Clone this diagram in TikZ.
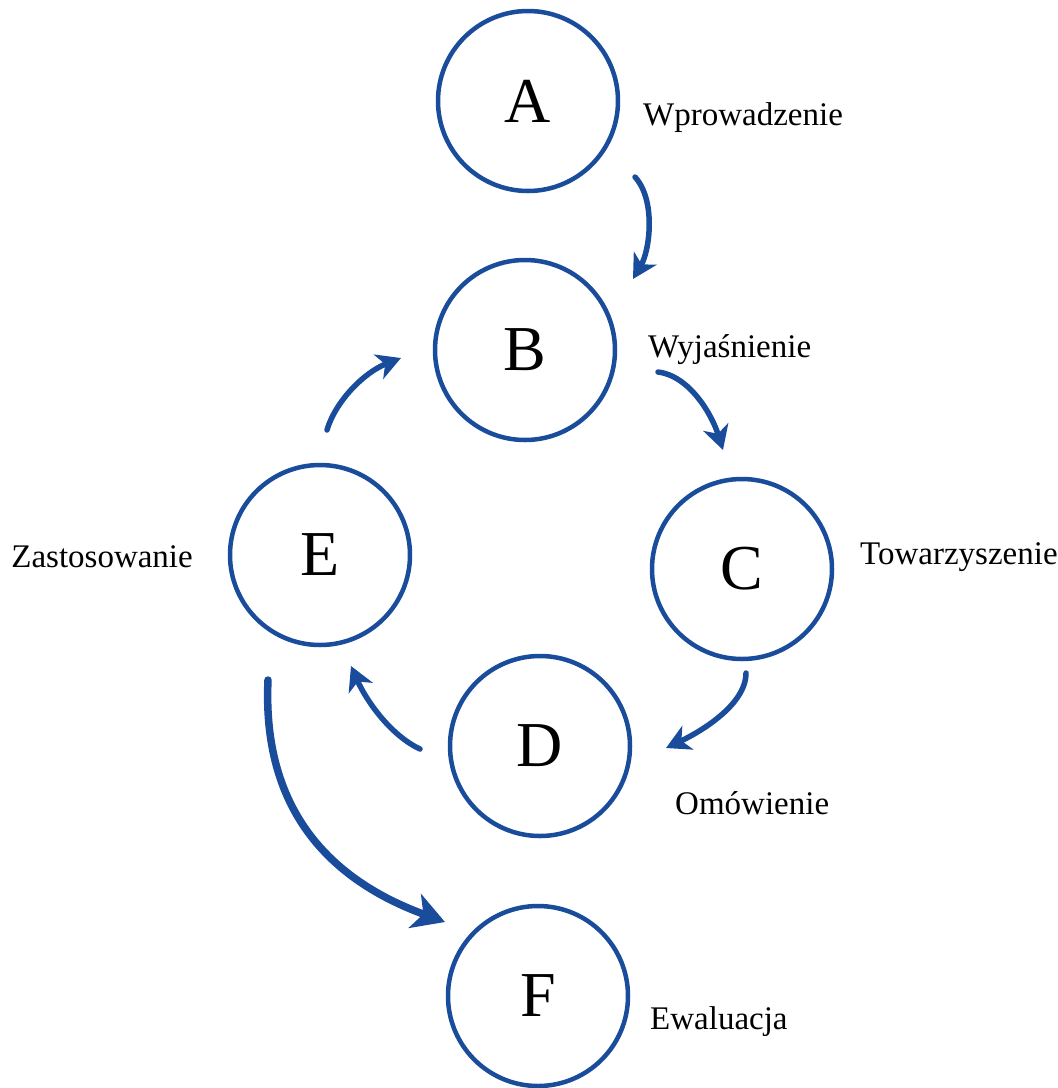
\documentclass[tikz,border=0pt]{standalone}
\usepackage{fontspec}
\setmainfont{Liberation Serif}
\usetikzlibrary{arrows.meta}
\definecolor{cblue}{RGB}{26,76,156}
\begin{document}
\begin{tikzpicture}[x=1pt,y=-1pt,
  stage/.style={circle,draw=cblue,line width=4.5pt,minimum size=180pt,inner sep=0pt,font=\fontsize{64}{64}\selectfont},
  lbl/.style={font=\fontsize{33}{33}\selectfont,anchor=west,inner sep=0pt},
  flow/.style={draw=cblue,line width=5.5pt,line cap=round,-{Stealth[length=24pt,width=26pt,inset=7pt]}},
  bigflow/.style={draw=cblue,line width=7.5pt,line cap=round,-{Stealth[length=32pt,width=36pt,inset=9pt]}}]
\useasboundingbox (0,0) rectangle (1058,1088);
\node[stage] (A) at (528,101) {A};
\node[stage] (B) at (525,350) {B};
\node[stage] (C) at (742,569) {C};
\node[stage] (D) at (540,746) {D};
\node[stage] (E) at (320,555) {E};
\node[stage] (F) at (538,996) {F};
\node[lbl] (lA) at (643,118) {Wprowadzenie};
\node[lbl] (lB) at (648,350) {Wyjaśnienie};
\node[lbl] (lC) at (860,557) {Towarzyszenie};
\node[lbl,anchor=east] (lE) at (193,557) {Zastosowanie};
\node[lbl] (lD) at (675,803) {Omówienie};
\node[lbl] (lF) at (650,1022) {Ewaluacja};
\coordinate (ab1) at (635,177); \coordinate (ab2) at (633,279);
\coordinate (bc1) at (658,372); \coordinate (bc2) at (723,450);
\coordinate (cd1) at (746,673); \coordinate (cd2) at (666,748);
\coordinate (de1) at (420,749); \coordinate (de2) at (351,666);
\coordinate (eb1) at (327,430); \coordinate (eb2) at (401,358);
\coordinate (ef1) at (268,680); \coordinate (ef2) at (445,922);
\draw[flow] (ab1) .. controls (656,200) and (650,250) .. (ab2);
\draw[flow] (bc1) .. controls (690,376) and (712,415) .. (bc2);
\draw[flow] (cd1) .. controls (746,705) and (700,732) .. (cd2);
\draw[flow] (de1) .. controls (390,735) and (366,700) .. (de2);
\draw[flow] (eb1) .. controls (336,400) and (365,372) .. (eb2);
\draw[bigflow] (ef1) .. controls (262,810) and (330,880) .. (ef2);
\end{tikzpicture}
\end{document}
